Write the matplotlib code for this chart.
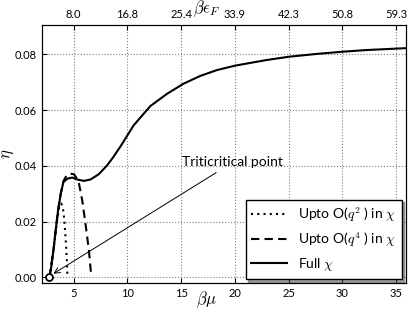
import matplotlib
matplotlib.use('Agg')
import matplotlib.pyplot as plt

plt.rcParams['font.family'] = ['Lato', 'DejaVu Sans']
plt.rcParams['mathtext.fontset'] = 'cm'
plt.rcParams['xtick.direction'] = 'in'
plt.rcParams['ytick.direction'] = 'in'

# full chi
full_mu = [2.75, 2.95, 3.12, 3.33, 3.55, 3.8, 4.05, 4.42, 4.88, 5.34, 5.95, 6.57,
           7.34, 8.12, 8.7, 9.4, 10.58, 12.13, 13.68, 15.2, 16.76, 18.3, 20.0, 22.9,
           25.0, 27.56, 30.0, 32.2, 36.0]
full_eta = [0.0, 0.0045, 0.0097, 0.0169, 0.024, 0.030, 0.0342, 0.0354, 0.0358,
            0.0351, 0.0346, 0.0351, 0.037, 0.0402, 0.0432, 0.0472, 0.0545, 0.0614,
            0.0658, 0.0694, 0.0722, 0.0743, 0.0759, 0.0779, 0.0791, 0.0801, 0.0809,
            0.0815, 0.0822]

# up to O(q^4)
q4_mu = [2.75, 3.12, 3.55, 3.8, 4.05, 4.35, 4.66, 5.03, 5.3, 5.5, 5.8, 6.1, 6.42, 6.64]
q4_eta = [0.0, 0.0097, 0.024, 0.030, 0.0345, 0.0366, 0.0372, 0.037, 0.0355,
          0.0336, 0.0276, 0.0193, 0.0097, 0.0005]

# up to O(q^2)
q2_mu = [2.75, 3.12, 3.45, 3.65, 3.85, 4.0, 4.12, 4.22, 4.3, 4.37, 4.42]
q2_eta = [0.0, 0.0097, 0.02, 0.025, 0.0265, 0.025, 0.021, 0.016, 0.011, 0.006, 0.0005]

# tricritical point
tc_mu, tc_eta = 2.75, 0.0

top_ticks = [5, 10, 15, 20, 25, 30, 35]
top_labels = ['8.0', '16.8', '25.4', '33.9', '42.3', '50.8', '59.3']

fig = plt.figure(figsize=(4.15, 3.12), dpi=100)
ax = fig.add_axes([0.101, 0.093, 0.877, 0.827])

ax.plot(q2_mu, q2_eta, color='black', lw=1.5, linestyle=(0, (1, 2)),
        label=r'Upto O($q^2$ ) in $\chi$')
ax.plot(q4_mu, q4_eta, color='black', lw=1.5, linestyle=(0, (4, 2.5)),
        label=r'Upto O($q^4$ ) in $\chi$')
ax.plot(full_mu, full_eta, color='black', lw=1.5, label=r'Full $\chi$')
ax.plot([tc_mu], [tc_eta], 'o', ms=5, mfc='white', mec='black', mew=1.3)

ax.annotate('Triticritical point', xy=(tc_mu + 0.15, tc_eta + 0.0008),
            xytext=(15.1, 0.0398), fontsize=10,
            arrowprops=dict(arrowstyle='->', color='black', lw=0.7))

ax.set_xlim(2.05, 35.9)
ax.set_ylim(-0.002, 0.0905)
ax.set_xticks(top_ticks)
ax.set_yticks([0.0, 0.02, 0.04, 0.06, 0.08])
ax.set_yticklabels(['0.00', '0.02', '0.04', '0.06', '0.08'])
ax.tick_params(labelsize=8)
ax.grid(True, linestyle=':', color='gray', lw=0.8)

ax.set_xlabel(r'$\beta\mu$', fontsize=12)
ax.xaxis.set_label_coords(0.453, -0.025)
ax.set_ylabel(r'$\eta$', fontsize=12)
ax.yaxis.set_label_coords(-0.07, 0.5)

ax2 = ax.twiny()
ax2.set_xlim(ax.get_xlim())
ax2.set_xticks(top_ticks)
ax2.set_xticklabels(top_labels)
ax2.tick_params(labelsize=8)
ax2.set_xlabel(r'$\beta\epsilon_F$', fontsize=12)
ax2.xaxis.set_label_coords(0.453, 1.045)

leg = ax.legend(loc='lower right', fontsize=10, shadow=True, fancybox=False,
                borderaxespad=0.3, handlelength=2.6, framealpha=1)
leg.get_frame().set_edgecolor('black')

fig.savefig('out.png', dpi=100)
